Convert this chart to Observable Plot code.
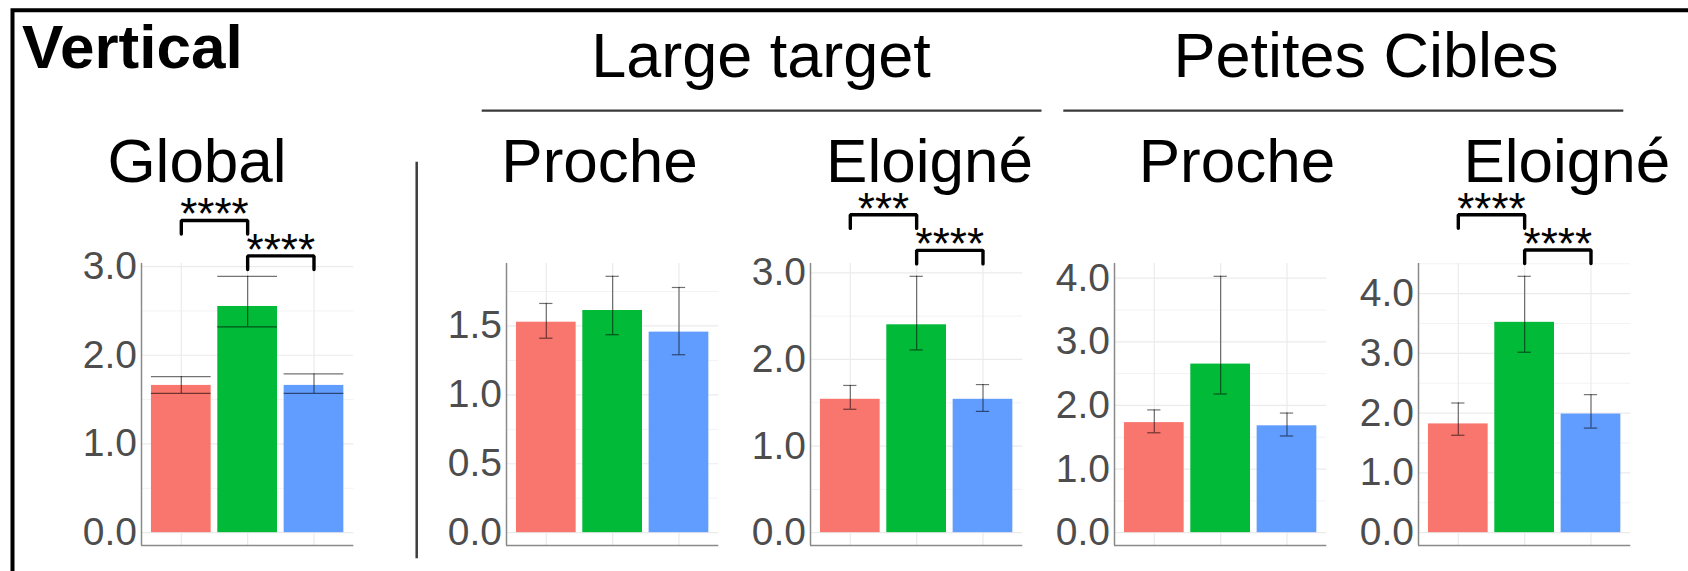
<!DOCTYPE html>
<html>
<head>
<meta charset="utf-8">
<script src="https://cdn.jsdelivr.net/npm/d3@7"></script>
<script src="https://cdn.jsdelivr.net/npm/@observablehq/plot@0.6"></script>
<style>
  html, body { margin: 0; padding: 0; background: #fff; }
  #chart { position: relative; width: 1688px; height: 571px; overflow: hidden;
           font-family: "Liberation Sans", Arial, Helvetica, sans-serif; background: #fff; }
  #chart svg { position: absolute; top: 0; overflow: visible; }
</style>
</head>
<body>
<div id="chart"></div>
<script>
// ---------------- DATA ----------------
const conditions = ["Condition 1", "Condition 2", "Condition 3"];
const conditionColors = ["#F8766D", "#00BA38", "#619CFF"];

const figureTitle = "Vertical";
const groupTitles = ["Large target", "Petites Cibles"];
const panelTitles = ["Global", "Proche", "Eloigné", "Proche", "Eloigné"];

// Global
const globalMean = [1.66, 2.55, 1.66];
const globalLo   = [1.57, 2.32, 1.57];
const globalHi   = [1.76, 2.89, 1.79];
// Large target - Proche
const largeNearMean = [1.527, 1.612, 1.455];
const largeNearLo   = [1.411, 1.436, 1.291];
const largeNearHi   = [1.663, 1.860, 1.779];
// Large target - Eloigné
const largeFarMean = [1.54, 2.40, 1.54];
const largeFarLo   = [1.425, 2.11, 1.40];
const largeFarHi   = [1.70, 2.96, 1.71];
// Petites Cibles - Proche
const smallNearMean = [1.73, 2.65, 1.68];
const smallNearLo   = [1.57, 2.18, 1.52];
const smallNearHi   = [1.93, 4.03, 1.88];
// Petites Cibles - Eloigné
const smallFarMean = [1.82, 3.52, 1.985];
const smallFarLo   = [1.63, 3.02, 1.75];
const smallFarHi   = [2.17, 4.29, 2.31];

// y tick labels per panel
const ticksGlobal    = [0, 1, 2, 3];
const ticksLargeNear = [0, 0.5, 1, 1.5];
const ticksLargeFar  = [0, 1, 2, 3];
const ticksSmallNear = [0, 1, 2, 3, 4];
const ticksSmallFar  = [0, 1, 2, 3, 4];

// significance comparisons (condition indices, label, bracket height in data units)
const sigGlobal    = [{from: 0, to: 1, label: "****", y: 3.52}, {from: 1, to: 2, label: "****", y: 3.12}];
const sigLargeNear = [];
const sigLargeFar  = [{from: 0, to: 1, label: "***",  y: 3.67}, {from: 1, to: 2, label: "****", y: 3.26}];
const sigSmallNear = [];
const sigSmallFar  = [{from: 0, to: 1, label: "****", y: 5.32}, {from: 1, to: 2, label: "****", y: 4.73}];

// ---------------- LAYOUT ----------------
const W = 1688, H = 571;
const plotTop = 263, plotBottom = 545, plotW = 212.3;
const axisX = [141, 506, 810, 1114.4, 1418];
const capWidth = [0.9, 0.2, 0.2, 0.2, 0.2];
const titleX = [197, 599.6, 929.5, 1237, 1566.8];
const FONT = '"Liberation Sans", Arial, Helvetica, sans-serif';

const chart = document.getElementById("chart");

// ---------- decorations (frame, titles, separators) ----------
const deco = d3.create("svg").attr("width", W).attr("height", H)
  .style("left", "0px").attr("font-family", FONT);
deco.append("path").attr("d", `M12.5,${H} V10.3 H${W}`)
  .attr("fill", "none").attr("stroke", "#000").attr("stroke-width", 4);
deco.append("text").attr("x", 22).attr("y", 67.5).attr("font-size", 62)
  .attr("font-weight", "bold").attr("fill", "#000").text(figureTitle);
const groupCenters = [761, 1366];
const groupLines = [[481.7, 1041.5], [1063.3, 1623.3]];
groupTitles.forEach((t, g) => {
  deco.append("text").attr("x", groupCenters[g]).attr("y", 76.7).attr("font-size", 63)
    .attr("text-anchor", "middle").attr("fill", "#000").text(t);
  deco.append("line").attr("x1", groupLines[g][0]).attr("x2", groupLines[g][1])
    .attr("y1", 110.7).attr("y2", 110.7).attr("stroke", "#3a3a3a").attr("stroke-width", 2.2);
});
panelTitles.forEach((t, k) => {
  deco.append("text").attr("x", titleX[k]).attr("y", 181.5).attr("font-size", 62)
    .attr("text-anchor", "middle").attr("fill", "#000").text(t);
});
deco.append("line").attr("x1", 416.7).attr("x2", 416.7).attr("y1", 161.7).attr("y2", 558.3)
  .attr("stroke", "#3d3d3d").attr("stroke-width", 2.5);
chart.appendChild(deco.node());

// ---------- panels ----------
function panel(k, mean, lo, hi, ticks, sig) {
  const rows = conditions.map((c, i) => ({cond: c, i, mean: mean[i], lo: lo[i], hi: hi[i]}));
  const M = d3.max(hi);
  const yDom = [-0.05 * M, 1.05 * M];
  const step = ticks[1] - ticks[0];
  const minor = ticks.map(t => t + step / 2).filter(t => t <= yDom[1]);
  const tip = 0.053 * M;
  const cw = capWidth[k];
  const bracketPts = sig.flatMap((s, j) => [
    {id: j, x: s.from, y: s.y - tip}, {id: j, x: s.from, y: s.y},
    {id: j, x: s.to, y: s.y}, {id: j, x: s.to, y: s.y - tip}
  ]);
  const ml = 70, mr = 20;
  const svg = Plot.plot({
    width: ml + plotW + mr, height: H,
    marginLeft: ml, marginRight: mr, marginTop: plotTop, marginBottom: H - plotBottom,
    x: {domain: [-0.6, 2.6], axis: null},
    y: {domain: yDom, ticks: ticks, tickFormat: d3.format(".1f"), tickSize: 0, tickPadding: 4.5, label: null},
    color: {domain: conditions, range: conditionColors},
    style: {fontFamily: FONT, fontSize: "39px", color: "#4d4d4d", background: "none", overflow: "visible"},
    marks: [
      Plot.ruleY(minor, {stroke: "#f3f3f3", strokeWidth: 1}),
      Plot.ruleY(ticks, {stroke: "#ebebeb", strokeWidth: 1.2}),
      Plot.ruleX(rows, {x: "i", stroke: "#ebebeb", strokeWidth: 1.2}),
      Plot.rect(rows, {x1: d => d.i - 0.45, x2: d => d.i + 0.45, y1: () => 0, y2: "mean", fill: "cond"}),
      Plot.ruleX(rows, {x: "i", y1: "lo", y2: "hi", stroke: "#000", strokeOpacity: 0.55, strokeWidth: 1.2}),
      Plot.ruleY(rows, {x1: d => d.i - cw / 2, x2: d => d.i + cw / 2, y: "hi", stroke: "#000", strokeOpacity: 0.55, strokeWidth: 1.2}),
      Plot.ruleY(rows, {x1: d => d.i - cw / 2, x2: d => d.i + cw / 2, y: "lo", stroke: "#000", strokeOpacity: 0.55, strokeWidth: 1.2}),
      Plot.ruleX([-0.6], {stroke: "#8a8a8a", strokeWidth: 1.5}),
      Plot.ruleY([yDom[0]], {stroke: "#8a8a8a", strokeWidth: 1.5}),
      Plot.line(bracketPts, {x: "x", y: "y", z: "id", stroke: "#000", strokeWidth: 3.4, strokeLinejoin: "miter"}),
      Plot.text(sig, {x: d => (d.from + d.to) / 2, y: "y", text: "label", lineAnchor: "bottom", dy: 9,
                      fontSize: 44, fill: "#000"})
    ]
  });
  svg.style.left = (axisX[k] - ml) + "px";
  svg.style.top = "0px";
  chart.appendChild(svg);
}

panel(0, globalMean, globalLo, globalHi, ticksGlobal, sigGlobal);
panel(1, largeNearMean, largeNearLo, largeNearHi, ticksLargeNear, sigLargeNear);
panel(2, largeFarMean, largeFarLo, largeFarHi, ticksLargeFar, sigLargeFar);
panel(3, smallNearMean, smallNearLo, smallNearHi, ticksSmallNear, sigSmallNear);
panel(4, smallFarMean, smallFarLo, smallFarHi, ticksSmallFar, sigSmallFar);
</script>
</body>
</html>
